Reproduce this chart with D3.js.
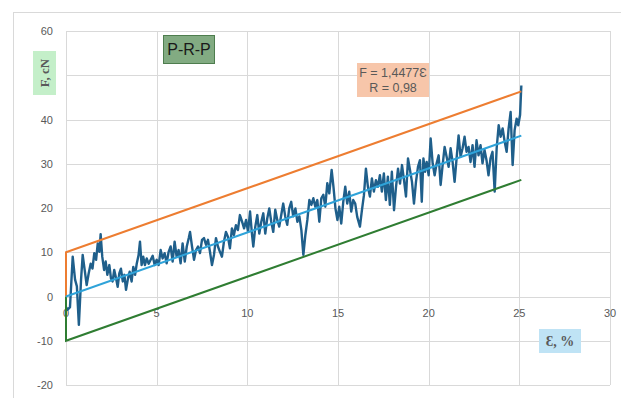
<!DOCTYPE html>
<html>
<head>
<meta charset="utf-8">
<script src="https://cdn.jsdelivr.net/npm/d3@7"></script>
<style>
  body { margin: 0; background: #fff; }
  svg { display: block; }
</style>
</head>
<body>
<div id="chart"></div>
<script>
const strain = [0, 0.09, 0.22, 0.37, 0.5, 0.6, 0.71, 0.83, 0.92, 1.03, 1.14, 1.25, 1.36, 1.46, 1.56, 1.66, 1.75, 1.84, 1.91, 2.0,
  2.1, 2.19, 2.28, 2.39, 2.48, 2.57, 2.66, 2.76, 2.85, 2.94, 3.03, 3.13, 3.22, 3.31, 3.42, 3.51, 3.62, 3.71, 3.81, 3.9,
  4.0, 4.08, 4.17, 4.26, 4.35, 4.45, 4.56,
  4.78, 4.89, 5.0, 5.11, 5.22, 5.33, 5.44, 5.55, 5.66, 5.77, 5.88, 5.99, 6.1, 6.21, 6.32, 6.43, 6.55, 6.66, 6.77, 6.84,
  6.95, 7.06, 7.17, 7.28, 7.39, 7.5, 7.61, 7.72, 7.83, 7.94, 8.05, 8.16, 8.27, 8.38, 8.49, 8.6, 8.71, 8.82, 8.93, 9.04,
  9.15, 9.26, 9.37, 9.48, 9.59,
  9.71, 9.82, 9.93, 10.04, 10.15, 10.26, 10.33, 10.44, 10.55, 10.66, 10.77, 10.88, 10.99, 11.1, 11.21, 11.32, 11.43, 11.54,
  11.65, 11.76, 11.87, 11.98, 12.09, 12.2, 12.31, 12.42, 12.53, 12.65, 12.76, 12.87, 12.98, 13.09, 13.2, 13.31, 13.42,
  13.53, 13.64, 13.75, 13.86, 13.97, 14.08, 14.19, 14.3, 14.41, 14.52,
  14.65, 14.75, 14.86, 14.97, 15.07, 15.18, 15.29, 15.4, 15.51, 15.62, 15.73, 15.84, 15.95, 16.06, 16.21, 16.32, 16.43,
  16.54, 16.65, 16.76, 16.87, 16.98, 17.09, 17.2, 17.31, 17.42, 17.53, 17.64, 17.75, 17.86, 17.97, 18.09, 18.2, 18.31,
  18.42, 18.53, 18.64, 18.75, 18.86, 18.97, 19.08, 19.19, 19.3, 19.41, 19.52,
  19.62, 19.71, 19.8, 19.89, 20.0, 20.11, 20.22, 20.33, 20.44, 20.55, 20.66, 20.77, 20.88, 20.99, 21.1, 21.21, 21.32,
  21.43, 21.54, 21.65, 21.76, 21.87, 21.98, 22.09, 22.2, 22.31, 22.42, 22.53, 22.64, 22.75, 22.86, 22.97, 23.08, 23.19,
  23.3, 23.41, 23.52, 23.64, 23.75, 23.86, 23.97, 24.08, 24.19, 24.3, 24.41, 24.52, 24.63, 24.74, 24.85, 24.94, 25.04, 25.11];
const force = [-2.4, -3.0, -2.4, 9.0, 3.8, 2.3, -6.4, 3.8, 9.4, 6.0, 2.6, 5.2, 7.4, 6.3, 9.8, 8.3, 12.0, 10.1, 14.1, 9.0,
  6.0, 7.9, 4.9, 7.1, 4.1, 3.4, 6.0, 4.1, 2.2, 5.2, 6.3, 3.4, 4.9, 1.5, 4.1, 5.6, 3.4, 6.7, 4.9, 7.4,
  9.3, 12.4, 7.1, 9.0, 7.1, 8.6, 7.4,
  9.2, 7.1, 8.3, 7.1, 10.5, 8.6, 9.8, 7.5, 10.1, 11.3, 7.9, 12.4, 9.0, 10.5, 7.5, 12.0, 7.9, 11.3, 13.2, 14.6,
  11.3, 8.3, 10.5, 11.3, 9.8, 12.8, 13.2, 11.7, 12.8, 10.1, 7.1, 9.4, 13.2, 11.3, 10.1, 9.0, 12.4, 14.6, 13.5, 10.9,
  15.4, 13.9, 16.1, 15.0, 18.4,
  16.9, 15.4, 17.3, 14.6, 19.2, 13.9, 11.3, 15.8, 18.4, 14.2, 16.9, 18.8, 14.2, 17.7, 19.9, 16.9, 14.6, 19.6,
  17.3, 15.8, 18.4, 21.0, 18.1, 16.2, 19.9, 21.4, 18.1, 19.9, 16.9, 18.1, 15.0, 9.4, 13.9, 17.3, 21.8,
  20.7, 22.2, 20.3, 21.8, 16.9, 22.2, 23.0, 20.3, 25.6, 23.3,
  28.6, 24.8, 19.9, 17.3, 20.3, 16.5, 21.4, 24.8, 21.0, 23.7, 19.2, 21.8, 21.0, 18.0, 15.8, 19.5, 22.9,
  28.9, 24.8, 22.6, 26.7, 23.7, 26.3, 24.8, 27.4, 23.7, 27.8, 21.8, 27.1, 20.7, 28.2, 19.5, 24.8, 28.9,
  25.5, 29.7, 26.3, 22.6, 31.2, 28.6, 25.9, 21.0, 25.9, 29.3, 30.8,
  21.4, 31.2, 28.2, 30.4, 27.4, 35.7, 30.1, 27.4, 30.1, 31.9, 25.2, 29.7, 33.8, 31.6, 29.3, 33.5, 30.4,
  25.9, 31.2, 36.4, 31.6, 33.5, 36.1, 32.7, 33.8, 30.4, 34.2, 29.3, 35.3, 31.9, 34.2, 30.1, 33.1, 30.8,
  27.4, 31.2, 32.7, 23.7, 33.5, 38.7, 36.1, 38.0, 35.0, 32.7, 38.0, 41.7, 29.7, 37.6, 40.2, 38.7, 41.0, 47.7];

// fitted line and the +/- 10 cN envelope
const fitX = [0, 25.11];
const fitF = [0, 36.35];
const envX = [0, 0, 25.11];
const upperF = [0, 10, 46.35];
const lowerF = [0, -10, 26.35];

const xTicks = [0, 5, 10, 15, 20, 25, 30];
const yTicks = [-20, -10, 0, 10, 20, 30, 40, 50, 60];

const W = 621, H = 398;
const svg = d3.select('#chart').append('svg')
    .attr('width', W)
    .attr('height', H);

// chart frame
svg.append('rect')
    .attr('x', 13.5).attr('y', 12.5)
    .attr('width', W).attr('height', H)
    .attr('fill', 'none')
    .attr('stroke', '#d9d9d9');

const x = d3.scaleLinear().domain([0, 30]).range([66, 610]);
const y = d3.scaleLinear().domain([-20, 60]).range([385, 31]);

// grid
const grid = svg.append('g').attr('stroke', '#d9d9d9').attr('stroke-width', 1);
grid.selectAll('.gx')
    .data(xTicks)
    .join('line')
    .attr('x1', d => Math.round(x(d)) + 0.5)
    .attr('x2', d => Math.round(x(d)) + 0.5)
    .attr('y1', y(60))
    .attr('y2', y(-20));
grid.selectAll('.gy')
    .data(yTicks)
    .join('line')
    .attr('y1', d => Math.round(y(d)) + 0.5)
    .attr('y2', d => Math.round(y(d)) + 0.5)
    .attr('x1', x(0))
    .attr('x2', x(30));

// tick labels
const labelFont = '"Liberation Sans", Arial, sans-serif';
svg.append('g').selectAll('text')
    .data(yTicks)
    .join('text')
    .attr('x', 53)
    .attr('y', d => y(d) + 4)
    .attr('text-anchor', 'end')
    .attr('font-family', labelFont)
    .attr('font-size', 11)
    .attr('fill', '#595959')
    .text(d => d);
svg.append('g').selectAll('text')
    .data(xTicks)
    .join('text')
    .attr('x', d => x(d))
    .attr('y', y(0) + 20)
    .attr('text-anchor', 'middle')
    .attr('font-family', labelFont)
    .attr('font-size', 11)
    .attr('fill', '#595959')
    .text(d => d);

const line = d3.line().x(d => x(d[0])).y(d => y(d[1]));

// measured curve
svg.append('path')
    .datum(d3.zip(strain, force))
    .attr('d', line)
    .attr('fill', 'none')
    .attr('stroke', '#1f5f8b')
    .attr('stroke-width', 2.4)
    .attr('stroke-linejoin', 'round');

svg.append('path')
    .datum(d3.zip(envX, upperF))
    .attr('d', line)
    .attr('fill', 'none')
    .attr('stroke', '#ed7d31')
    .attr('stroke-width', 2);
svg.append('path')
    .datum(d3.zip(envX, lowerF))
    .attr('d', line)
    .attr('fill', 'none')
    .attr('stroke', '#2f7d32')
    .attr('stroke-width', 2);
svg.append('path')
    .datum(d3.zip(fitX, fitF))
    .attr('d', line)
    .attr('fill', 'none')
    .attr('stroke', '#2fa3d9')
    .attr('stroke-width', 2);

// title box
svg.append('rect')
    .attr('x', 163.5).attr('y', 35.5)
    .attr('width', 51).attr('height', 28)
    .attr('fill', '#82ab82')
    .attr('stroke', '#4e7d4e');
svg.append('text')
    .attr('x', 189).attr('y', 55)
    .attr('text-anchor', 'middle')
    .attr('font-family', labelFont)
    .attr('font-size', 16)
    .attr('fill', '#1a1a1a')
    .text('P-R-P');

// y axis title
svg.append('rect')
    .attr('x', 33).attr('y', 51)
    .attr('width', 23).attr('height', 44)
    .attr('fill', '#c4efc9');
svg.append('text')
    .attr('transform', 'translate(49,73) rotate(-90)')
    .attr('text-anchor', 'middle')
    .attr('font-family', '"Liberation Serif", "DejaVu Serif", serif')
    .attr('font-weight', 'bold')
    .attr('font-size', 13)
    .attr('fill', '#595959')
    .text('F, cN');

// equation box
svg.append('rect')
    .attr('x', 357).attr('y', 63)
    .attr('width', 72).attr('height', 34)
    .attr('fill', '#f7c6aa');
const eq = svg.append('text')
    .attr('text-anchor', 'middle')
    .attr('font-family', labelFont)
    .attr('font-size', 12.5)
    .attr('fill', '#595959');
eq.append('tspan').attr('x', 393).attr('y', 77).text('F = 1,4477Ɛ');
eq.append('tspan').attr('x', 393).attr('y', 92).text('R = 0,98');

// x axis title
svg.append('rect')
    .attr('x', 539).attr('y', 329)
    .attr('width', 42).attr('height', 24)
    .attr('fill', '#bfe3f5');
svg.append('text')
    .attr('x', 560).attr('y', 346)
    .attr('text-anchor', 'middle')
    .attr('font-family', '"Liberation Serif", "DejaVu Serif", serif')
    .attr('font-weight', 'bold')
    .attr('font-size', 14)
    .attr('fill', '#595959')
    .text('Ɛ, %');
</script>
</body>
</html>
